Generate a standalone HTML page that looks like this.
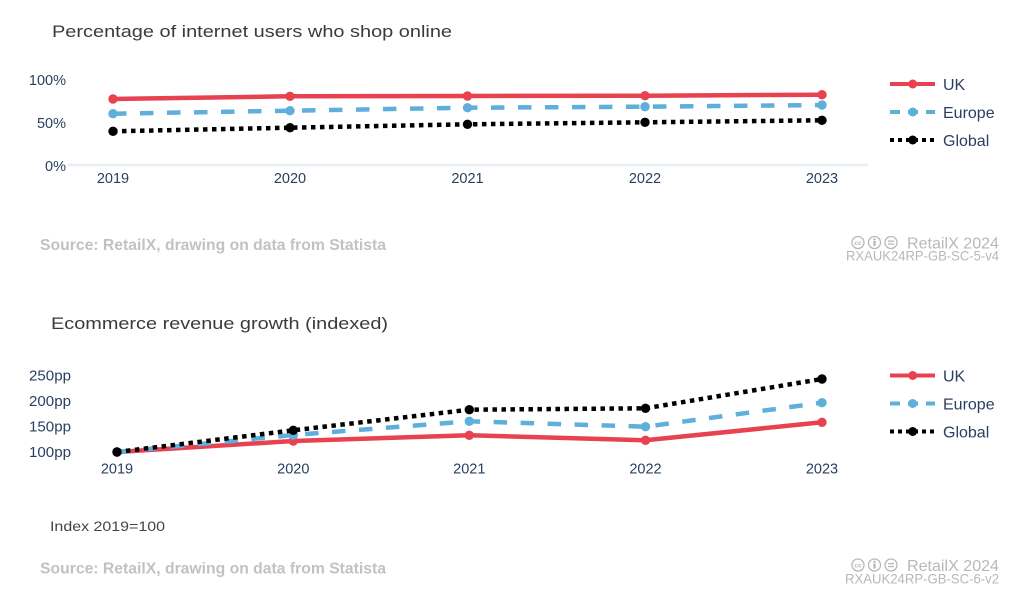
<!DOCTYPE html>
<html><head><meta charset="utf-8"><style>
html,body{margin:0;padding:0;background:#fff;}
svg{display:block;font-family:"Liberation Sans",Arial,sans-serif;}
</style></head><body>
<svg width="1027" height="610" viewBox="0 0 1027 610" xmlns="http://www.w3.org/2000/svg">
<rect width="1027" height="610" fill="#fff"/>

<!-- ===== TOP CHART ===== -->
<text x="52" y="37" font-size="17" fill="#3a3a3a" textLength="400" lengthAdjust="spacingAndGlyphs">Percentage of internet users who shop online</text>

<g font-size="14.5" fill="#2a3f5f" text-anchor="end">
<text x="66" y="85">100%</text>
<text x="66" y="128">50%</text>
<text x="66" y="171">0%</text>
</g>
<line x1="68" y1="165" x2="868" y2="165" stroke="#e8edf6" stroke-width="2.5"/>
<g font-size="14.5" fill="#2a3f5f" text-anchor="middle">
<text x="113" y="183">2019</text>
<text x="290" y="183">2020</text>
<text x="467.5" y="183">2021</text>
<text x="645" y="183">2022</text>
<text x="822" y="183">2023</text>
</g>

<polyline points="113,99 290,96.3 467.5,96 645,95.7 822,94.7" fill="none" stroke="#e8414f" stroke-width="4.5" stroke-linejoin="round"/>
<g fill="#e8414f"><circle cx="113" cy="99" r="4.7"/><circle cx="290" cy="96.3" r="4.7"/><circle cx="467.5" cy="96" r="4.7"/><circle cx="645" cy="95.7" r="4.7"/><circle cx="822" cy="94.7" r="4.7"/></g>

<polyline points="113,113.7 290,110.7 467.5,107.7 645,106.7 822,105" fill="none" stroke="#5eafd9" stroke-width="4.5" stroke-dasharray="13.5,13.5"/>
<g fill="#5eafd9"><circle cx="113" cy="113.7" r="4.7"/><circle cx="290" cy="110.7" r="4.7"/><circle cx="467.5" cy="107.7" r="4.7"/><circle cx="645" cy="106.7" r="4.7"/><circle cx="822" cy="105" r="4.7"/></g>

<polyline points="113,131.3 290,127.7 467.5,124.3 645,122.3 822,120.3" fill="none" stroke="#000" stroke-width="4.5" stroke-dasharray="4.5,4.5"/>
<g fill="#000"><circle cx="113" cy="131.3" r="4.7"/><circle cx="290" cy="127.7" r="4.7"/><circle cx="467.5" cy="124.3" r="4.7"/><circle cx="645" cy="122.3" r="4.7"/><circle cx="822" cy="120.3" r="4.7"/></g>

<!-- legend top -->
<line x1="890" y1="84" x2="935" y2="84" stroke="#e8414f" stroke-width="4"/>
<circle cx="912.7" cy="84" r="4.5" fill="#e8414f"/>
<line x1="890" y1="112" x2="935" y2="112" stroke="#5eafd9" stroke-width="4" stroke-dasharray="10,8"/>
<circle cx="912.7" cy="112" r="4.5" fill="#5eafd9"/>
<line x1="890" y1="140" x2="935" y2="140" stroke="#000" stroke-width="4" stroke-dasharray="4,4"/>
<circle cx="912.7" cy="140" r="4.5" fill="#000"/>
<g font-size="16" fill="#2a3f5f">
<text x="943" y="90">UK</text>
<text x="943" y="118">Europe</text>
<text x="943" y="146">Global</text>
</g>

<!-- source top -->
<text x="40" y="250" font-size="16" font-weight="bold" fill="#c2c2c2" textLength="346" lengthAdjust="spacingAndGlyphs">Source: RetailX, drawing on data from Statista</text>
<g fill="none" stroke="#b8b8b8" stroke-width="1.3">
<circle cx="858" cy="242.5" r="6"/><circle cx="874.5" cy="242.5" r="6"/><circle cx="891" cy="242.5" r="6"/>
</g>
<text x="858" y="245" font-size="6.5" fill="#b8b8b8" text-anchor="middle" font-weight="bold">cc</text>
<circle cx="874.5" cy="239.3" r="1.2" fill="#b8b8b8"/>
<rect x="873.3" y="241" width="2.4" height="5" fill="#b8b8b8"/>
<rect x="888" y="240.5" width="6" height="1.3" fill="#b8b8b8"/>
<rect x="888" y="243.4" width="6" height="1.3" fill="#b8b8b8"/>
<text x="999" y="248.5" font-size="16" fill="#b8b8b8" text-anchor="end" textLength="92" lengthAdjust="spacingAndGlyphs">RetailX 2024</text>
<text x="999" y="260.5" font-size="14" fill="#b8b8b8" text-anchor="end" textLength="153" lengthAdjust="spacingAndGlyphs">RXAUK24RP-GB-SC-5-v4</text>

<!-- ===== BOTTOM CHART ===== -->
<text x="51" y="329" font-size="17" fill="#3a3a3a" textLength="337" lengthAdjust="spacingAndGlyphs">Ecommerce revenue growth (indexed)</text>

<g font-size="14.5" fill="#2a3f5f" text-anchor="end">
<text x="71" y="380.5" textLength="42" lengthAdjust="spacingAndGlyphs">250pp</text>
<text x="71" y="406" textLength="42" lengthAdjust="spacingAndGlyphs">200pp</text>
<text x="71" y="431.7" textLength="42" lengthAdjust="spacingAndGlyphs">150pp</text>
<text x="71" y="457" textLength="42" lengthAdjust="spacingAndGlyphs">100pp</text>
</g>
<g font-size="14.5" fill="#2a3f5f" text-anchor="middle">
<text x="117" y="473.5">2019</text>
<text x="293.3" y="473.5">2020</text>
<text x="469.3" y="473.5">2021</text>
<text x="645.5" y="473.5">2022</text>
<text x="822" y="473.5">2023</text>
</g>

<polyline points="117,452 293.3,441 469.3,435.3 645.5,440.3 822,422.3" fill="none" stroke="#e8414f" stroke-width="4.5" stroke-linejoin="round"/>
<g fill="#e8414f"><circle cx="117" cy="452" r="4.7"/><circle cx="293.3" cy="441" r="4.7"/><circle cx="469.3" cy="435.3" r="4.7"/><circle cx="645.5" cy="440.3" r="4.7"/><circle cx="822" cy="422.3" r="4.7"/></g>

<polyline points="117,452 293.3,435 469.3,421.3 645.5,426.7 822,402.7" fill="none" stroke="#5eafd9" stroke-width="4.5" stroke-dasharray="13.5,13.5"/>
<g fill="#5eafd9"><circle cx="117" cy="452" r="4.7"/><circle cx="293.3" cy="435" r="4.7"/><circle cx="469.3" cy="421.3" r="4.7"/><circle cx="645.5" cy="426.7" r="4.7"/><circle cx="822" cy="402.7" r="4.7"/></g>

<polyline points="117,452 293.3,430.3 469.3,409.7 645.5,408.3 822,379" fill="none" stroke="#000" stroke-width="4.5" stroke-dasharray="4.5,4.5"/>
<g fill="#000"><circle cx="117" cy="452" r="4.7"/><circle cx="293.3" cy="430.3" r="4.7"/><circle cx="469.3" cy="409.7" r="4.7"/><circle cx="645.5" cy="408.3" r="4.7"/><circle cx="822" cy="379" r="4.7"/></g>

<!-- legend bottom -->
<line x1="890" y1="375.5" x2="935" y2="375.5" stroke="#e8414f" stroke-width="4"/>
<circle cx="912.7" cy="375.5" r="4.5" fill="#e8414f"/>
<line x1="890" y1="403.5" x2="935" y2="403.5" stroke="#5eafd9" stroke-width="4" stroke-dasharray="10,8"/>
<circle cx="912.7" cy="403.5" r="4.5" fill="#5eafd9"/>
<line x1="890" y1="431.5" x2="935" y2="431.5" stroke="#000" stroke-width="4" stroke-dasharray="4,4"/>
<circle cx="912.7" cy="431.5" r="4.5" fill="#000"/>
<g font-size="16" fill="#2a3f5f">
<text x="943" y="381.5">UK</text>
<text x="943" y="409.5">Europe</text>
<text x="943" y="437.5">Global</text>
</g>

<text x="50" y="531" font-size="14" fill="#444" textLength="115" lengthAdjust="spacingAndGlyphs">Index 2019=100</text>

<!-- source bottom -->
<text x="40" y="573.5" font-size="16" font-weight="bold" fill="#c2c2c2" textLength="346" lengthAdjust="spacingAndGlyphs">Source: RetailX, drawing on data from Statista</text>
<g fill="none" stroke="#b8b8b8" stroke-width="1.3">
<circle cx="858" cy="565" r="6"/><circle cx="874.5" cy="565" r="6"/><circle cx="891" cy="565" r="6"/>
</g>
<text x="858" y="567.5" font-size="6.5" fill="#b8b8b8" text-anchor="middle" font-weight="bold">cc</text>
<circle cx="874.5" cy="561.8" r="1.2" fill="#b8b8b8"/>
<rect x="873.3" y="563.5" width="2.4" height="5" fill="#b8b8b8"/>
<rect x="888" y="563" width="6" height="1.3" fill="#b8b8b8"/>
<rect x="888" y="565.9" width="6" height="1.3" fill="#b8b8b8"/>
<text x="999" y="571" font-size="16" fill="#b8b8b8" text-anchor="end" textLength="92" lengthAdjust="spacingAndGlyphs">RetailX 2024</text>
<text x="999" y="583.5" font-size="14" fill="#b8b8b8" text-anchor="end" textLength="154" lengthAdjust="spacingAndGlyphs">RXAUK24RP-GB-SC-6-v2</text>
</svg>
</body></html>
